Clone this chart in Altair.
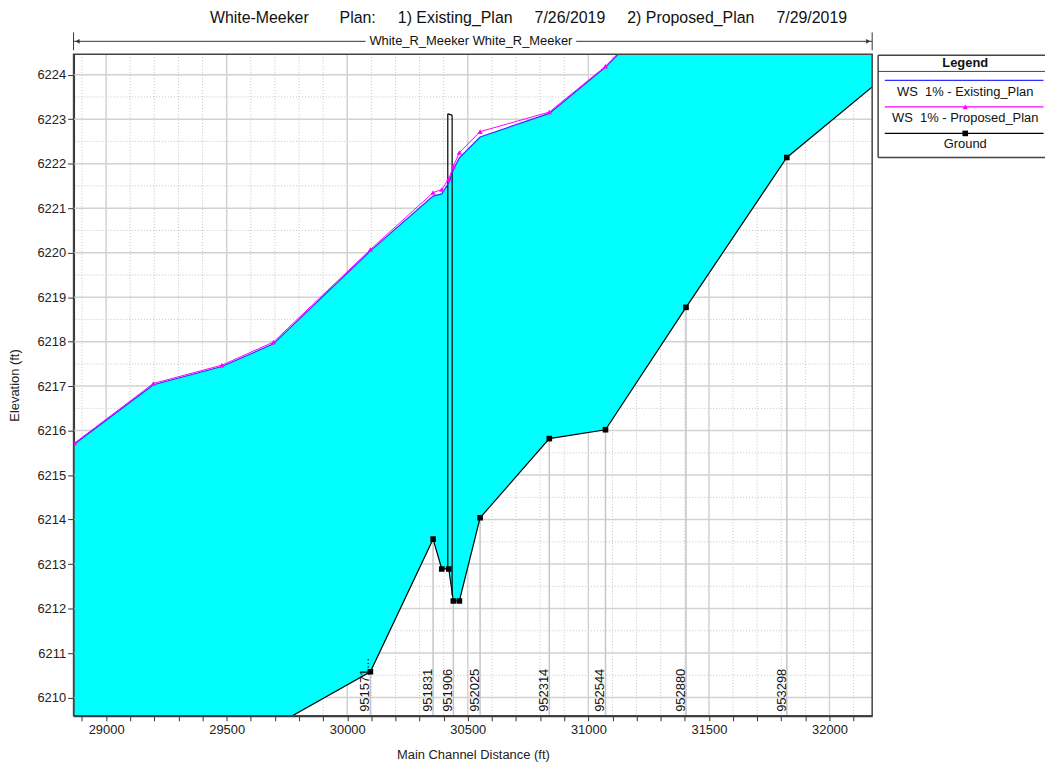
import altair as alt
import pandas as pd

# ---------------- data ----------------
# cross sections: main channel distance (ft)
dist = [28869, 29196, 29480, 29694, 30096, 30356, 30392, 30421, 30440, 30465,
        30551, 30838, 31071, 31405, 31823, 32250]
ws_existing = [6215.70, 6217.03, 6217.44, 6217.95, 6220.04, 6221.27, 6221.32, 6221.57,
               6221.87, 6222.13, 6222.60, 6223.13, 6224.17, 6226.00, 6228.60, 6229.60]
ws_proposed = [6215.72, 6217.06, 6217.47, 6217.99, 6220.07, 6221.35, 6221.42, 6221.66,
               6221.94, 6222.25, 6222.72, 6223.16, 6224.19, 6226.05, 6228.65, 6229.65]
ground = [6207.00, 6207.80, 6208.60, 6209.35, 6210.58, 6213.56, 6212.89, 6212.89,
          6212.17, 6212.17, 6214.04, 6215.82, 6216.02, 6218.77, 6222.14, 6224.05]

# labelled river stations
station_dist = [30096, 30356, 30440, 30551, 30838, 31071, 31405, 31823]
station_labels = ["951571...", "951831", "951906", "952025", "952314", "952544", "952880", "953298"]
station_ground = [6210.58, 6213.56, 6212.17, 6214.04, 6215.82, 6216.02, 6218.77, 6222.14]

# bridge deck outline
bridge_x = [30417, 30435]
bridge_bottom = [6212.89, 6212.30]
bridge_top = [6223.12, 6223.09]

title_text = ("White-Meeker" + "\u00a0" * 7 + "Plan:" + "\u00a0" * 5 + "1) Existing_Plan" +
              "\u00a0" * 5 + "7/26/2019" + "\u00a0" * 5 + "2) Proposed_Plan" + "\u00a0" * 5 + "7/29/2019")
reach_text = "White_R_Meeker White_R_Meeker"
legend_labels = ["WS\u00a0\u00a01% - Existing_Plan", "WS\u00a0\u00a01% - Proposed_Plan", "Ground"]

X_DOM = [28865, 32177]
Y_DOM = [6209.59, 6224.46]
x_ticks = list(range(28900, 32177, 100))
y_ticks = [6210 + 0.5 * i for i in range(29)]
x_major = [v for v in x_ticks if v % 500 == 0]
x_minor = [v for v in x_ticks if v % 500 != 0]
y_major = [v for v in y_ticks if v % 1 == 0]
y_minor = [v for v in y_ticks if v % 1 != 0]

# ---------------- chart ----------------
W, H = 804, 666
FONT = "Liberation Sans, Arial, Helvetica, sans-serif"
C_EXIST = "#2f2fff"
C_PROP = "#ff00ff"
C_FILL = "#00ffff"

xs = pd.DataFrame({"dist": dist, "ws_existing": ws_existing,
                   "ws_proposed": ws_proposed, "ground": ground})
st = pd.DataFrame({"dist": station_dist, "label": station_labels, "ground": station_ground})

x_scale = alt.Scale(domain=X_DOM, nice=False, zero=False)
y_scale = alt.Scale(domain=Y_DOM, nice=False, zero=False)

x_axis = alt.Axis(title="Main Channel Distance (ft)", values=x_ticks, format="d",
                  labelExpr="datum.value % 500 === 0 ? datum.label : ''",
                  grid=False, tickSize=5, tickColor="#333", domainColor="#333", domainWidth=2,
                  labelPadding=3, titlePadding=12, labelFontSize=13, titleFontSize=13,
                  titleFontWeight="normal", labelOverlap=False, labelFlush=False,
                  labelColor="#222", titleColor="#222", labelFont=FONT, titleFont=FONT)
y_axis = alt.Axis(title="Elevation (ft)", values=y_ticks, format="d",
                  labelExpr="datum.value % 1 === 0 ? datum.label : ''",
                  grid=False,
                  tickSize={"condition": {"test": "datum.value % 1 === 0", "value": 6}, "value": 3},
                  tickColor="#333", domainColor="#333", domainWidth=2,
                  labelPadding=2, titlePadding=16, labelFontSize=13, titleFontSize=13,
                  titleFontWeight="normal", labelOverlap=False, labelFlush=False,
                  labelColor="#222", titleColor="#222", labelFont=FONT, titleFont=FONT)


def X(f):
    return alt.X(f"{f}:Q", scale=x_scale, axis=x_axis)


def Y(f):
    return alt.Y(f"{f}:Q", scale=y_scale, axis=y_axis)


one = pd.DataFrame({"k": [0]})

grid_xm = alt.Chart(pd.DataFrame({"v": x_minor})).mark_rule(
    color="#c4c4c4", strokeWidth=1, strokeDash=[1, 2]).encode(x=X("v"))
grid_ym = alt.Chart(pd.DataFrame({"v": y_minor})).mark_rule(
    color="#c4c4c4", strokeWidth=1, strokeDash=[1, 2]).encode(y=Y("v"))
grid_xM = alt.Chart(pd.DataFrame({"v": x_major})).mark_rule(
    color="#d2d2d2", strokeWidth=1.5).encode(x=X("v"))
grid_yM = alt.Chart(pd.DataFrame({"v": y_major})).mark_rule(
    color="#d2d2d2", strokeWidth=1.5).encode(y=Y("v"))

st_rules = alt.Chart(st).mark_rule(color="#c6c6c6", strokeWidth=1.5).encode(
    x=X("dist"), y=Y("ground"), y2=alt.value(H))

area = alt.Chart(xs).mark_area(color=C_FILL, opacity=1, clip=True).encode(
    x=X("dist"), y=Y("ground"), y2=alt.Y2("ws_existing"))

bridge_v = alt.Chart(pd.DataFrame({"x": bridge_x, "b": bridge_bottom, "t": bridge_top})).mark_rule(
    color="black", strokeWidth=1.2, clip=True).encode(x=X("x"), y=Y("b"), y2=alt.Y2("t"))
bridge_h = alt.Chart(pd.DataFrame({"x": [bridge_x[0]], "x2": [bridge_x[1]],
                                   "t": [bridge_top[0]], "t2": [bridge_top[1]]})).mark_rule(
    color="black", strokeWidth=1.2, clip=True).encode(
    x=X("x"), x2=alt.X2("x2"), y=Y("t"), y2=alt.Y2("t2"))

line_e = alt.Chart(xs).mark_line(color=C_EXIST, strokeWidth=1.2, clip=True).encode(
    x=X("dist"), y=Y("ws_existing"))
line_p = alt.Chart(xs).mark_line(color=C_PROP, strokeWidth=1, clip=True).encode(
    x=X("dist"), y=Y("ws_proposed"))
pts_p = alt.Chart(xs).mark_point(shape="triangle-up", filled=True, size=28, color=C_PROP,
                                 opacity=1, clip=True).encode(x=X("dist"), y=Y("ws_proposed"))
line_g = alt.Chart(xs).mark_line(color="black", strokeWidth=1.2, clip=True).encode(
    x=X("dist"), y=Y("ground"))
pts_g = alt.Chart(xs).mark_square(size=32, color="black", opacity=1, clip=True).encode(
    x=X("dist"), y=Y("ground"))

st_text = alt.Chart(st).mark_text(angle=270, align="left", baseline="alphabetic", dx=4, dy=-1,
                                  fontSize=13, font=FONT, color="#111").encode(
    x=X("dist"), y=alt.value(H), text="label:N")

frame = alt.Chart(one).mark_rect(filled=False, stroke="#444", strokeWidth=1.5).encode(
    x=alt.value(0), x2=alt.value(W), y=alt.value(0), y2=alt.value(H))

# title and reach arrow
title = alt.Chart(pd.DataFrame({"t": [title_text]})).mark_text(
    fontSize=16, font=FONT, color="#111", baseline="middle").encode(
    text="t:N", x=alt.value(458), y=alt.value(-36))
reach = alt.Chart(pd.DataFrame({"t": [reach_text]})).mark_text(
    fontSize=13, font=FONT, color="#111", baseline="middle").encode(
    text="t:N", x=alt.value(400), y=alt.value(-13))
arrow_l = alt.Chart(one).mark_rule(color="#333", strokeWidth=1).encode(
    x=alt.value(0), x2=alt.value(294), y=alt.value(-13))
arrow_r = alt.Chart(one).mark_rule(color="#333", strokeWidth=1).encode(
    x=alt.value(506), x2=alt.value(W), y=alt.value(-13))
bar_l = alt.Chart(one).mark_rule(color="#333", strokeWidth=1).encode(
    x=alt.value(0), y=alt.value(-22), y2=alt.value(-4))
bar_r = alt.Chart(one).mark_rule(color="#333", strokeWidth=1).encode(
    x=alt.value(W), y=alt.value(-22), y2=alt.value(-4))
head_l = alt.Chart(one).mark_point(shape="triangle-left", filled=True, size=22, color="#333",
                                   opacity=1).encode(x=alt.value(4), y=alt.value(-13))
head_r = alt.Chart(one).mark_point(shape="triangle-right", filled=True, size=22, color="#333",
                                   opacity=1).encode(x=alt.value(W - 4), y=alt.value(-13))

# legend box (cut at the right edge, as in the reference)
LX0, LX1, LC = 810, 978, 897.7


def hrule(y, x0, x1, color, sw=1.5):
    return alt.Chart(one).mark_rule(color=color, strokeWidth=sw).encode(
        x=alt.value(x0), x2=alt.value(x1), y=alt.value(y))


def ltext(txt, y, bold=False):
    return alt.Chart(pd.DataFrame({"t": [txt]})).mark_text(
        fontSize=13, font=FONT, color="#111", baseline="middle",
        fontWeight="bold" if bold else "normal").encode(
        text="t:N", x=alt.value(LC), y=alt.value(y))


leg = [
    hrule(1, LX0, LX1, "#444"),
    hrule(104, LX0, LX1, "#444"),
    alt.Chart(one).mark_rule(color="#444", strokeWidth=1.5).encode(
        x=alt.value(LX0), y=alt.value(1), y2=alt.value(104)),
    hrule(17.3, LX0, LX1, "#444", 1),
    ltext("Legend", 8.5, bold=True),
    hrule(26.3, 816.7, 976.5, C_EXIST, 1.2),
    ltext(legend_labels[0], 38),
    hrule(53, 816.7, 976.5, C_PROP, 1.2),
    alt.Chart(one).mark_point(shape="triangle-up", filled=True, size=28, color=C_PROP,
                              opacity=1).encode(x=alt.value(LC), y=alt.value(53)),
    ltext(legend_labels[1], 64.7),
    hrule(79.7, 816.7, 976.5, "black", 1.2),
    alt.Chart(one).mark_square(size=32, color="black", opacity=1).encode(
        x=alt.value(LC), y=alt.value(79.7)),
    ltext(legend_labels[2], 90.7),
]

chart = alt.layer(
    grid_xm, grid_ym, grid_xM, grid_yM, st_rules, area, bridge_v, bridge_h,
    line_e, line_p, pts_p, line_g, pts_g, st_text, frame,
    title, arrow_l, arrow_r, bar_l, bar_r, head_l, head_r, reach, *leg
).properties(width=W, height=H, padding=0).configure_view(strokeWidth=0)

chart.save("out.html", embed_options={"renderer": "svg", "actions": False})
